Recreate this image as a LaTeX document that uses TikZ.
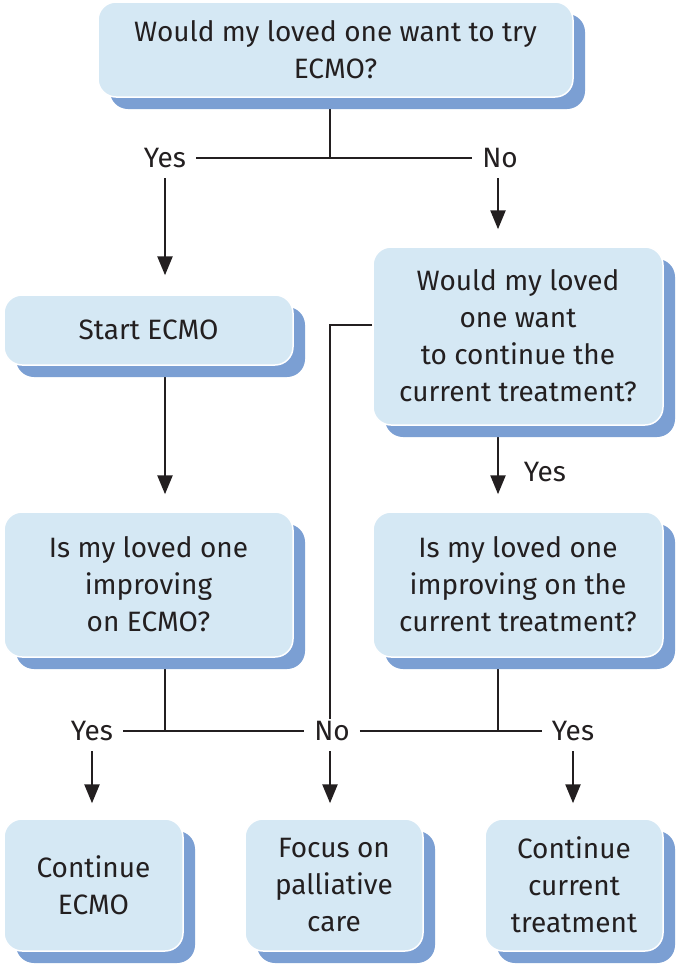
\documentclass[tikz,border=0pt]{standalone}
\usepackage{fontspec}
\setmainfont{Fira Sans}
\usepackage{tikz}
\usetikzlibrary{arrows.meta}
\usetikzlibrary{shadows}
\usetikzlibrary{backgrounds}
\definecolor{boxblue}{RGB}{213,232,244}
\definecolor{shadowblue}{RGB}{123,159,211}
\definecolor{inkblack}{RGB}{35,31,32}
\tikzset{
  qbox/.style={rectangle,rounded corners=18pt,draw=white,line width=1.5pt,fill=boxblue,
    text=inkblack,align=center,inner sep=0pt,
    font=\fontsize{28}{37}\selectfont,
    drop shadow={shadow xshift=12pt,shadow yshift=-12pt,fill=shadowblue,opacity=1}},
  answer/.style={text=inkblack,inner sep=10pt,font=\fontsize{28}{37}\selectfont},
  conn/.style={draw=inkblack,line width=2.5pt},
  arr/.style={conn,->}
}

\begin{document}
\begin{tikzpicture}[line join=round,>={Triangle[length=19pt,width=15pt]},x=1pt,y=-1pt]
\useasboundingbox (0,0) rectangle (675,964);
% boxes
\node[qbox,minimum width=475pt,minimum height=95pt] (try) at (335.5,49.5) {Would my loved one want to try\\ECMO?};
\node[qbox,minimum width=289pt,minimum height=70pt] (start) at (148.5,330) {Start ECMO};
\node[qbox,minimum width=290pt,minimum height=178pt] (cont) at (518,336) {Would my loved\\one want\\to continue the\\current treatment?};
\node[qbox,minimum width=289pt,minimum height=145pt] (impecmo) at (148.5,584.5) {Is my loved one\\improving\\on ECMO?};
\node[qbox,minimum width=290pt,minimum height=145pt] (impcur) at (518,584.5) {Is my loved one\\improving on the\\current treatment?};
\node[qbox,minimum width=179pt,minimum height=132pt] (keepecmo) at (93.5,885) {Continue\\ECMO};
\node[qbox,minimum width=178pt,minimum height=132pt] (palli) at (334,885) {Focus on\\palliative\\care};
\node[qbox,minimum width=178pt,minimum height=132pt] (keepcur) at (574,885) {Continue\\current\\treatment};
% answers
\node[answer] (yesA) at (165,158) {Yes};
\node[answer] (noA) at (500,158) {No};
\node[answer] (yesB) at (545,472) {Yes};
\node[answer] (yesC) at (92,731) {Yes};
\node[answer] (noC) at (332,731) {No};
\node[answer] (yesD) at (573,731) {Yes};
\coordinate (splitA) at (330,158);
\coordinate (bendC) at (330,325);
\coordinate (joinL) at (165,731);
\coordinate (joinR) at (498,731);
% connectors
\begin{scope}[on background layer]
\draw[conn] (splitA |- try.south) -- (splitA);
\draw[conn] (yesA) -- (noA);
\draw[arr,shorten >=19pt] (yesA.south) -- (yesA.south |- start.north);
\draw[arr,shorten >=17pt] (joinR |- noA.south) -- (joinR |- cont.north);
\draw[arr,shorten >=17pt] (start.south -| yesA) -- (yesA |- impecmo.north);
\draw[arr,shorten >=17pt] (cont.south -| joinR) -- (joinR |- impcur.north);
\draw[conn] (cont.west |- bendC) -- (bendC) -- ([yshift=-8pt]bendC |- noC.north);
\draw[conn] (impecmo.south -| joinL) -- (joinL);
\draw[conn] (impcur.south -| joinR) -- (joinR);
\draw[conn] (yesC) -- (noC);
\draw[conn] (noC) -- (yesD);
\draw[arr,shorten >=15pt] (yesC.south) -- (yesC.south |- keepecmo.north);
\draw[arr,shorten >=15pt] (bendC |- noC.south) -- (bendC |- palli.north);
\draw[arr,shorten >=15pt] (yesD.south) -- (yesD.south |- keepcur.north);
\end{scope}
\end{tikzpicture}
\end{document}
